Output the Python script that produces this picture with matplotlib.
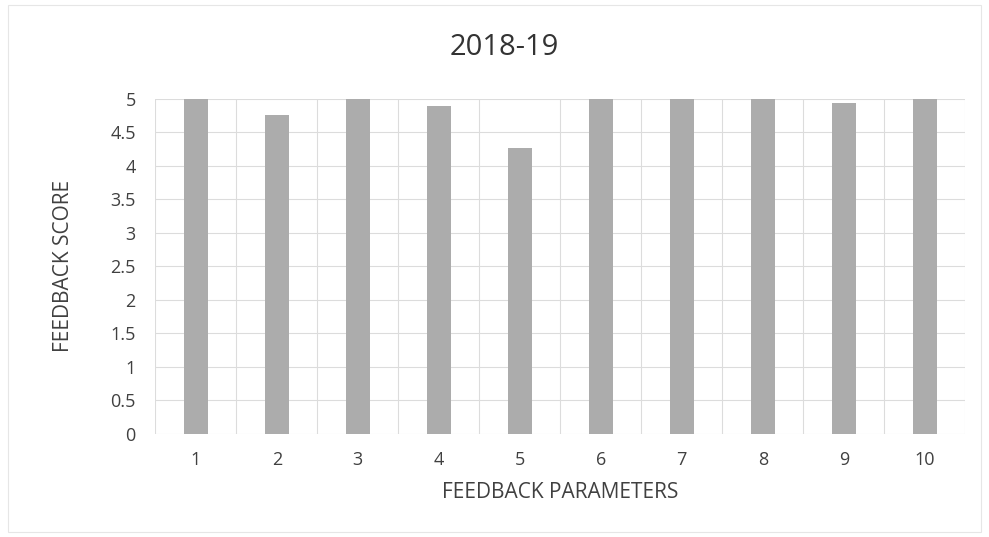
import numpy as np
import matplotlib
matplotlib.use("Agg")
import matplotlib.pyplot as plt

# ---- data ----
parameters = ['1', '2', '3', '4', '5', '6', '7', '8', '9', '10']
scores = [5.0, 4.76, 5.0, 4.9, 4.27, 5.0, 5.0, 5.0, 4.93, 5.0]
y_ticks = [0, 0.5, 1, 1.5, 2, 2.5, 3, 3.5, 4, 4.5, 5]

plt.rcParams['font.family'] = ['Open Sans', 'DejaVu Sans']

fig = plt.figure(figsize=(9.89, 5.37), dpi=100)
ax = fig.add_axes([0.157, 0.192, 0.819, 0.624])

x = np.arange(len(parameters))
ax.bar(x, scores, width=0.3, color='#acacac', zorder=3)

ax.set_xlim(-0.5, len(parameters) - 0.5)
ax.set_ylim(0, 5)
ax.set_yticks(y_ticks)
ax.set_yticklabels([f'{t:g}' for t in y_ticks])
ax.set_xticks(x)
ax.set_xticklabels(parameters)

# vertical gridlines at category boundaries
ax.set_xticks(np.arange(-0.5, len(parameters), 1), minor=True)
ax.grid(True, which='minor', axis='x', color='#dcdcdc', linewidth=0.8, zorder=0)
ax.grid(True, which='major', axis='y', color='#dcdcdc', linewidth=0.8, zorder=0)

for s in ax.spines.values():
    s.set_visible(False)
ax.tick_params(axis='both', which='both', length=0, labelsize=13, colors='#404040')
ax.tick_params(axis='x', pad=12)
ax.tick_params(axis='y', pad=14)

fig.text(0.51, 0.912, '2018-19', fontsize=21, color='#333333', ha='center', va='center')
ax.set_xlabel('FEEDBACK PARAMETERS', fontsize=15, color='#404040', labelpad=10)
ax.set_ylabel('FEEDBACK SCORE', fontsize=15, color='#404040', labelpad=26)

fig.patches.append(plt.Rectangle((0.008, 0.01), 0.984, 0.98, transform=fig.transFigure,
                                 fill=False, edgecolor='#e6e6e6', linewidth=0.8))

fig.savefig('out.png', dpi=100)
